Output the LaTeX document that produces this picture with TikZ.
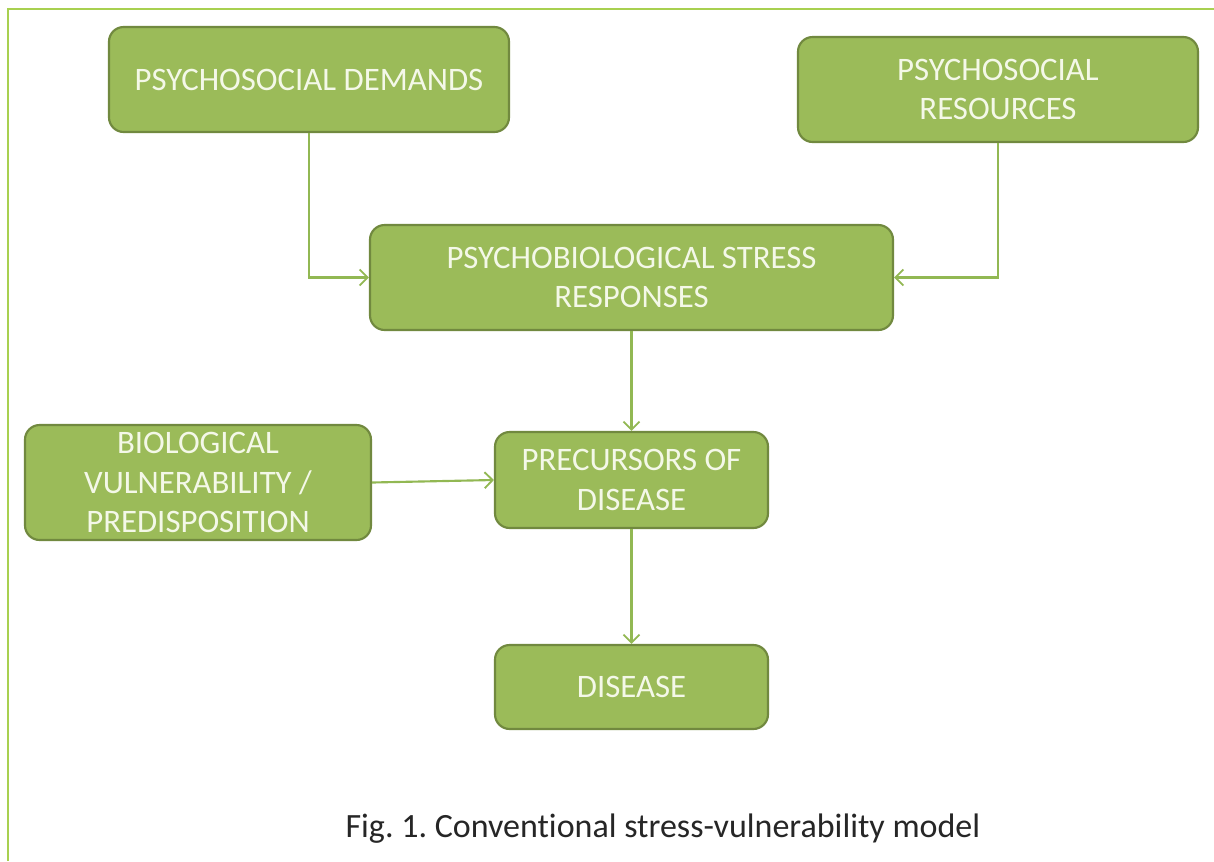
\documentclass[tikz,border=0pt]{standalone}
\usepackage{fontspec}
\setmainfont[Ligatures={NoCommon}]{Carlito}
\frenchspacing
\usetikzlibrary{arrows.meta}
\definecolor{boxfill}{HTML}{9BBB59}
\definecolor{boxline}{HTML}{71893F}
\definecolor{arrcol}{HTML}{92B853}
\definecolor{framecol}{HTML}{A8D050}
\definecolor{txtcol}{HTML}{F4F8E8}
\tikzset{
  gbox/.style={draw=boxline, line width=1.6pt, fill=boxfill, rounded corners=11pt,
    text=txtcol, align=center, inner sep=0pt,
    font=\fontsize{24.6}{29.7}\selectfont},
  arr/.style={draw=arrcol, line width=1.6pt, -{Straight Barb[length=6pt,width=12pt,line width=1.4pt]}},
}
\begin{document}
\begin{tikzpicture}[x=0.75pt,y=-0.75pt]
\useasboundingbox (0,0) rectangle (1214,861);
\fill[white] (0,0) rectangle (1214,861);
\draw[framecol, line width=1.3pt] (8,861) -- (8,9) -- (1214,9);
\node[gbox, minimum width=300pt, minimum height=78.75pt] (d) at (309,79.5) {PSYCHOSOCIAL DEMANDS};
\node[gbox, minimum width=300pt, minimum height=78.75pt] (r) at (998,89.5) {PSYCHOSOCIAL\\RESOURCES};
\node[gbox, minimum width=392.25pt, minimum height=78.75pt] (s) at (631.5,277.5) {PSYCHOBIOLOGICAL STRESS\\RESPONSES};
\node[gbox, minimum width=259.5pt, minimum height=86.25pt] (b) at (198,482.5) {BIOLOGICAL\\VULNERABILITY /\\PREDISPOSITION};
\node[gbox, minimum width=204.75pt, minimum height=72pt] (p) at (631.5,480) {PRECURSORS OF\\DISEASE};
\node[gbox, minimum width=204.75pt, minimum height=63pt] (dis) at (631.5,687) {DISEASE};
\draw[arr] (d.south) |- (s.west);
\draw[arr] (r.south) |- (s.east);
\draw[arr] (s.south) -- (p.north);
\draw[arr] (b.east) -- (p.west);
\draw[arr] (p.south) -- (dis.north);
\node[font=\fontsize{25.5}{30}\selectfont, text=black!85] (cap) at (663,829) {Fig. 1. Conventional stress-vulnerability model};
\end{tikzpicture}
\end{document}
